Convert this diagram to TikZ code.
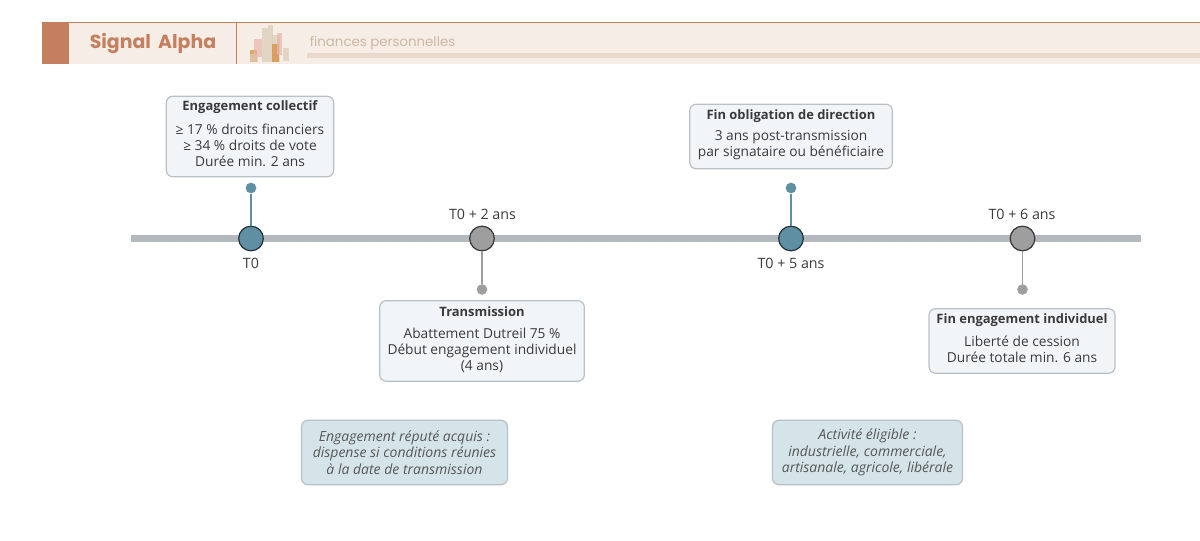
\documentclass[tikz,border=0pt]{standalone}
\usepackage{fontspec}
\setmainfont{Open Sans}
\newfontfamily\titlefont{Poppins}
\usetikzlibrary{positioning}
\definecolor{bannerbg}{HTML}{F6EDE7}
\definecolor{bannerdark}{HTML}{C47F5F}
\definecolor{bannerline}{HTML}{E8D9CC}
\definecolor{subtext}{HTML}{CDB8A0}
\definecolor{axisgrey}{HTML}{B4B9BF}
\definecolor{tealmark}{HTML}{5E8FA3}
\definecolor{greymark}{HTML}{9E9E9E}
\definecolor{boxfill}{HTML}{F1F5F8}
\definecolor{boxline}{HTML}{B8C0C8}
\definecolor{notefill}{HTML}{D5E4E9}
\definecolor{inktext}{HTML}{3A3A3A}
\definecolor{barpink}{HTML}{E9B5AC}
\definecolor{barsand}{HTML}{DCCBB4}
\definecolor{barorange}{HTML}{D98A35}
\begin{document}
\begin{tikzpicture}[x=0.75pt, y=-0.75pt,
font=\fontsize{10.3}{12.2}\selectfont, text=inktext,
mark/.style = {circle, draw=#1!35!black, fill=#1, line width=0.9pt,
	minimum size=18.5pt, inner sep=0pt},
pindot/.style = {circle, fill=#1, minimum size=8pt, inner sep=0pt},
stem/.style = {draw=#1, line width=1.1pt},
tick/.style = {inner sep=0pt, font=\fontsize{10.7}{12}\selectfont},
head/.style = {inner sep=0pt, font=\fontsize{9.7}{12}\selectfont\bfseries},
body/.style = {align=center, inner sep=0pt},
card/.style = {draw=boxline, fill=boxfill, rounded corners=5pt, line width=0.9pt,
	align=center, inner sep=0pt, minimum width=#1},
note/.style = {draw=boxline, fill=notefill, rounded corners=5pt, line width=0.9pt,
	align=center, inner sep=0pt, font=\fontsize{10.5}{12.2}\selectfont\itshape,
	text=inktext!85, minimum width=#1, minimum height=48.5pt}
]
\useasboundingbox (0,0) rectangle (1200,541);
% Draw the banner
\fill[bannerbg] (42,22) rectangle (1200,64.5);
\fill[bannerdark] (42,22) rectangle (69,64.5);
\draw[bannerdark, line width=0.6pt] (42,22) -- (1200,22);
\draw[bannerdark, line width=0.6pt] (236.5,22) -- (236.5,64.5);
\fill[bannerline] (307,53.5) rectangle (1200,58);
\node[text=bannerdark, font=\titlefont\fontsize{14.2}{16}\selectfont\bfseries] (title) at (153,44) {Signal\ \,Alpha};
\node[anchor=west, inner sep=0pt, text=subtext, font=\titlefont\fontsize{10}{12}\selectfont] (subtitle) at (309.5,43.5) {finances personnelles};
% Draw the little bars of the banner
\foreach \xa/\ya/\xb/\yb/\col in {
	250/50/257/62/barorange, 250/54/258/62/barsand,
	254/39/262/57/barpink, 262/28/268/62/barsand,
	268/25/273/62/barsand, 272/35/280/62/barsand,
	272/44/279/62/barorange, 277/33/282/55/barpink,
	283/48/289/61/barsand}
\fill[\col, opacity=0.7] (\xa,\ya) rectangle (\xb,\yb);

% Draw the axis
\coordinate (A-start) at (131,238.5);
\coordinate (A-end) at (1141,238.5);
\draw[axisgrey, line width=5.2pt] (A-start) -- (A-end);

% Draw the milestones and their pins
\foreach \i/\x/\col/\pin in {1/251/tealmark/188, 2/482/greymark/289.5, 3/791/tealmark/188, 4/1022.5/greymark/289.5}
{
	\node[pindot=\col] (P-\i) at (\x,\pin) {};
	\node[mark=\col] (M-\i) at (\x,238.5) {};
	\draw[stem=\col] (P-\i) -- (M-\i);
}
% Time labels
\node[tick] (T-1) at (251,263.5) {T0};
\node[tick] (T-2) at (482.5,214.5) {T0 + 2 ans};
\node[tick] (T-3) at (791,263.5) {T0 + 5 ans};
\node[tick] (T-4) at (1022,214.5) {T0 + 6 ans};

% Draw the cards
\node[card=125.5pt, minimum height=60.5pt] (C-1) at (250,136.5) {};
\node[head] (H-1) at (250,107.5) {Engagement collectif};
\node[body] (B-1) at (250,145.5) {≥ 17 \% droits financiers\\≥ 34 \% droits de vote\\Durée min. 2 ans};

\node[card=153.5pt, minimum height=60.5pt] (C-2) at (482,341) {};
\node[head] (H-2) at (482,311.5) {Transmission};
\node[body] (B-2) at (482,350.5) {Abattement Dutreil 75 \%\\Début engagement individuel\\(4 ans)};

\node[card=152pt, minimum height=48.5pt] (C-3) at (791,136.5) {};
\node[head] (H-3) at (791,116) {Fin obligation de direction};
\node[body] (B-3) at (791,145) {3 ans post-transmission\\par signataire ou bénéficiaire};

\node[card=139.5pt, minimum height=48.5pt] (C-4) at (1022,341) {};
\node[head] (H-4) at (1022,320.5) {Fin engagement individuel};
\node[body] (B-4) at (1022,349.5) {Liberté de cession\\Durée totale min. 6 ans};

% Draw the notes
\node[note=154.5pt] (N-1) at (404.5,452.5) {Engagement réputé acquis :\\dispense si conditions réunies\\à la date de transmission};
\node[note=142.5pt] (N-2) at (867.5,452.5) {Activité éligible :\\industrielle, commerciale,\\artisanale, agricole, libérale};
\end{tikzpicture}
\end{document}
